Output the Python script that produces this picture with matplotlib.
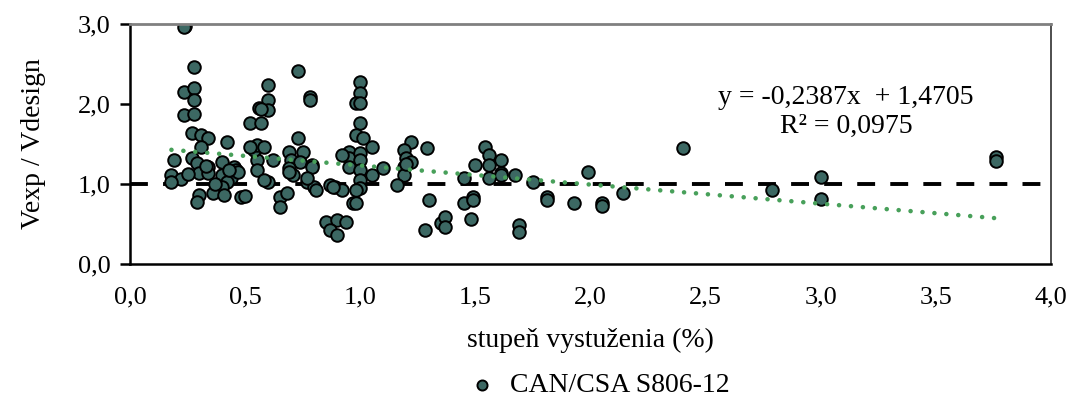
import matplotlib
matplotlib.use("Agg")
import matplotlib.pyplot as plt
import numpy as np

plt.rcParams['font.family'] = ['Liberation Serif', 'DejaVu Serif']

# stupen vystuzenia (%) vs Vexp/Vdesign
rho = [0.24, 0.235, 0.28, 0.235, 0.28, 0.28, 0.235, 0.28, 0.27, 0.31,
       0.34, 0.42, 0.31, 0.19, 0.27, 0.29, 0.40, 0.18, 0.22, 0.18,
       0.30, 0.34, 0.45, 0.46, 0.44, 0.40, 0.42, 0.40, 0.30, 0.29,
       0.36, 0.41, 0.48, 0.50, 0.52, 0.56, 0.55, 0.54, 0.55,
       0.73, 0.78, 0.78, 0.60, 0.60, 0.60, 0.57, 0.57, 0.55, 0.52,
       0.58, 0.73, 0.69, 0.75, 0.70, 0.74, 0.69, 0.71, 0.79, 0.62,
       0.60, 0.65, 0.68, 0.65, 0.77, 0.80, 0.81, 0.87, 0.89, 0.92,
       0.85, 0.90, 0.94, 0.87, 0.90, 0.97,
       1.00, 1.00, 0.98, 1.00, 1.00, 0.98, 1.01, 1.05, 0.95, 0.95,
       1.00, 1.00, 0.95, 1.00, 1.05, 1.10, 1.00, 1.00, 0.98, 0.88,
       1.22, 1.19, 1.20, 1.19, 1.19, 1.16, 1.29, 1.30, 1.28,
       1.35, 1.37, 1.37, 1.50, 1.54, 1.56, 1.61, 1.56, 1.61, 1.45,
       1.45, 1.49, 1.49, 1.48, 1.67, 1.69, 1.69, 1.75, 1.81, 1.81,
       1.93, 1.99, 2.05, 2.05, 2.14, 2.40, 2.79, 3.00, 3.00, 3.76,
       3.76, 1.56, 1.61, 0.79, 0.77, 0.34, 0.47, 0.98, 1.22, 1.20,
       0.33, 0.37, 0.43, 0.25, 0.58, 0.69, 0.92]
ratio = [2.98, 2.96, 2.46, 2.15, 2.20, 2.05, 1.86, 1.87, 1.64, 1.61,
         1.58, 1.52, 1.46, 1.30, 1.32, 1.26, 1.27, 1.11, 1.06, 1.03,
         1.14, 1.21, 1.21, 1.17, 1.07, 1.11, 1.02, 0.96, 0.86, 0.78,
         0.89, 0.86, 0.84, 0.85, 1.76, 1.95, 1.30, 1.42, 1.17,
         2.41, 2.09, 2.05, 2.24, 2.05, 1.93, 1.94, 1.76, 1.49, 1.46,
         1.46, 1.58, 1.40, 1.40, 1.30, 1.27, 1.20, 1.11, 1.24, 1.30,
         1.02, 0.84, 0.89, 0.71, 1.02, 0.96, 0.92, 0.99, 0.96, 0.93,
         0.52, 0.55, 0.52, 0.42, 0.36, 0.76,
         2.27, 2.14, 2.01, 2.01, 1.76, 1.61, 1.57, 1.46, 1.40, 1.32,
         1.39, 1.30, 1.21, 1.17, 1.11, 1.20, 1.05, 0.95, 0.76, 0.96,
         1.52, 1.42, 1.32, 1.21, 1.11, 0.99, 1.45, 0.80, 0.42,
         0.51, 0.59, 0.46, 1.24, 1.46, 1.36, 1.30, 1.24, 1.14, 1.07,
         0.76, 0.84, 0.80, 0.56, 1.11, 0.49, 0.40, 1.02, 0.84, 0.80,
         0.76, 1.15, 0.76, 0.73, 0.89, 1.45, 0.92, 1.09, 0.81, 1.34,
         1.29, 1.07, 1.11, 1.21, 1.07, 1.14, 1.15, 0.93, 1.27, 1.25,
         1.22, 1.00, 1.17, 1.12, 1.05, 1.15, 1.36]

# linear trendline reported in the chart
slope = -0.2387
intercept = 1.4705
r2 = 0.0975

fig = plt.figure(figsize=(10.76, 3.99), dpi=100)
ax = fig.add_axes([0.1208, 0.3383, 0.8560, 0.6015])

ax.axhline(1.0, color='black', lw=2.8, dashes=(4.6, 3.9), zorder=1)

xt = np.array([min(rho), max(rho)])
ax.plot(xt, slope * xt + intercept, color='#48a05a', lw=3.3,
        linestyle=(0, (0.01, 2.6)), dash_capstyle='round', zorder=3)

ax.scatter(rho, ratio, s=82, c='#3c6863', edgecolors='black',
           linewidths=1.4, zorder=2, label='CAN/CSA S806-12')

eq = 'y = -{:.4f}x  + {:.4f}\nR² = {:.4f}'.format(-slope, intercept, r2).replace('.', ',')
ax.text(3.11, 1.90, eq, ha='center', va='center', fontsize=20, linespacing=1.25)

ax.set_xlim(0, 4)
ax.set_ylim(0, 3)
xticks = np.arange(0, 4.01, 0.5)
ax.set_xticks(xticks)
ax.set_yticks([0, 1, 2, 3])
ax.set_xticklabels([f'{v:.1f}'.replace('.', ',') for v in xticks])
ax.set_yticklabels([f'{v:.1f}'.replace('.', ',') for v in [0, 1, 2, 3]])
ax.tick_params(axis='x', length=0, pad=16, labelsize=19)
ax.tick_params(axis='y', length=7, width=1.8, pad=7, labelsize=19, direction='out')

ax.spines['left'].set_linewidth(1.8)
ax.spines['bottom'].set_linewidth(1.8)
ax.spines['top'].set_color('#808080')
ax.spines['top'].set_linewidth(2.0)
ax.spines['right'].set_color('#404040')
ax.spines['right'].set_linewidth(1.3)

ax.set_xlabel('stupeň vystuženia (%)', fontsize=20, labelpad=14)
ax.set_ylabel('Vexp / Vdesign', fontsize=20, labelpad=23)

fig.legend(loc='lower center', bbox_to_anchor=(0.55, -0.06), frameon=False,
           fontsize=20, handletextpad=0.0, markerscale=0.8)

fig.savefig('out.png', dpi=100)
